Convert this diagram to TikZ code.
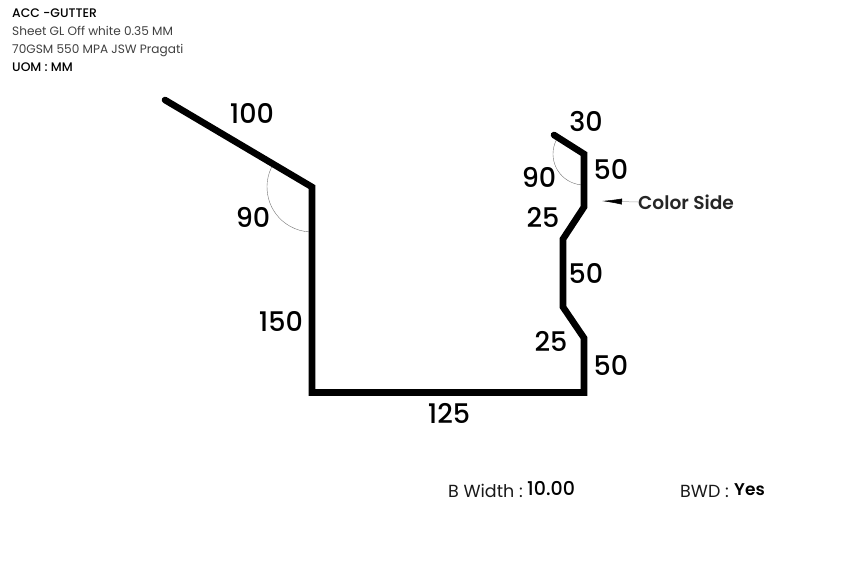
\documentclass[tikz,border=0pt]{standalone}
\usepackage{fontspec}
\setmainfont{Poppins}
\newfontfamily\medf{Poppins Medium}
\newfontfamily\semif{Poppins SemiBold}
\usetikzlibrary{arrows.meta}
\tikzset{
  x=1pt,y=1pt,
  profile/.style={line width=6.6pt,line join=miter,line cap=round,black},
  anglearc/.style={line width=0.4pt,black!55},
  dim/.style={inner sep=0pt,font=\medf\fontsize{27}{27}\selectfont,text=black},
  head/.style={anchor=base west,inner sep=0pt,font=\fontsize{12.1}{12}\selectfont,text=black!75},
  headb/.style={anchor=base west,inner sep=0pt,font=\medf\fontsize{12.4}{12}\selectfont,text=black},
  foot/.style={anchor=base west,inner sep=0pt,font=\fontsize{17.5}{17}\selectfont,text=black!90},
}
\begin{document}
\begin{tikzpicture}
\useasboundingbox (0,0) rectangle (848,-582);
\coordinate (p1) at (165,-100);
\coordinate (p2) at (312,-187);
\coordinate (p3) at (312,-392.5);
\coordinate (p4) at (584,-392.5);
\coordinate (p5) at (584,-338);
\coordinate (p6) at (563,-307);
\coordinate (p7) at (563,-239);
\coordinate (p8) at (584,-207);
\coordinate (p9) at (584,-154);
\coordinate (p10) at (554,-135);
\draw[anglearc] (p2) ++(150:45) arc[start angle=150,end angle=268,radius=45];
\draw[anglearc] (p9) ++(148:31) arc[start angle=148,end angle=265,radius=31];
\draw[profile] (p1) -- (p2) -- (p3) -- (p4) -- (p5) -- (p6) -- (p7) -- (p8) -- (p9) -- (p10);
\node[headb] (t1) at (12,-17.5) {ACC -GUTTER};
\node[head] (t2) at (12,-35.5) {Sheet GL Off white 0.35 MM};
\node[head] (t3) at (12,-53.5) {70GSM 550 MPA JSW Pragati};
\node[headb] (t4) at (12,-71.5) {UOM : MM};
\node[dim] (d100) at (252,-113.5) {100};
\node[dim] (a90l) at (253,-217.5) {90};
\node[dim] (d150) at (281,-321.5) {150};
\node[dim] (d125) at (449,-413.5) {125};
\node[dim] (d30) at (586,-121.5) {30};
\node[dim] (d50a) at (611,-169.5) {50};
\node[dim] (a90r) at (539,-177.5) {90};
\node[dim] (d25a) at (543,-217.5) {25};
\node[dim] (d50b) at (586,-273.5) {50};
\node[dim] (d25b) at (551,-341.5) {25};
\node[dim] (d50c) at (611,-365.5) {50};
\node[anchor=west,inner sep=0pt,font=\semif\fontsize{18.6}{18}\selectfont,text=black!85] (cs) at (638,-202) {Color Side};
\coordinate (tip) at (602,-201);
\draw[line width=0.5pt,-{Latex[length=20pt,width=6pt,black]},black!35] (cs.west) -- (tip);
\node[foot] (bw) at (448,-497) {B Width :};
\node[foot,font=\medf\fontsize{19}{19}\selectfont,text=black] (bv) at (527,-495) {10.00};
\node[foot] (bwd) at (680,-497) {BWD :};
\node[foot,font=\semif\fontsize{17}{17}\selectfont,text=black] (yes) at (734,-495) {Yes};
\end{tikzpicture}
\end{document}
